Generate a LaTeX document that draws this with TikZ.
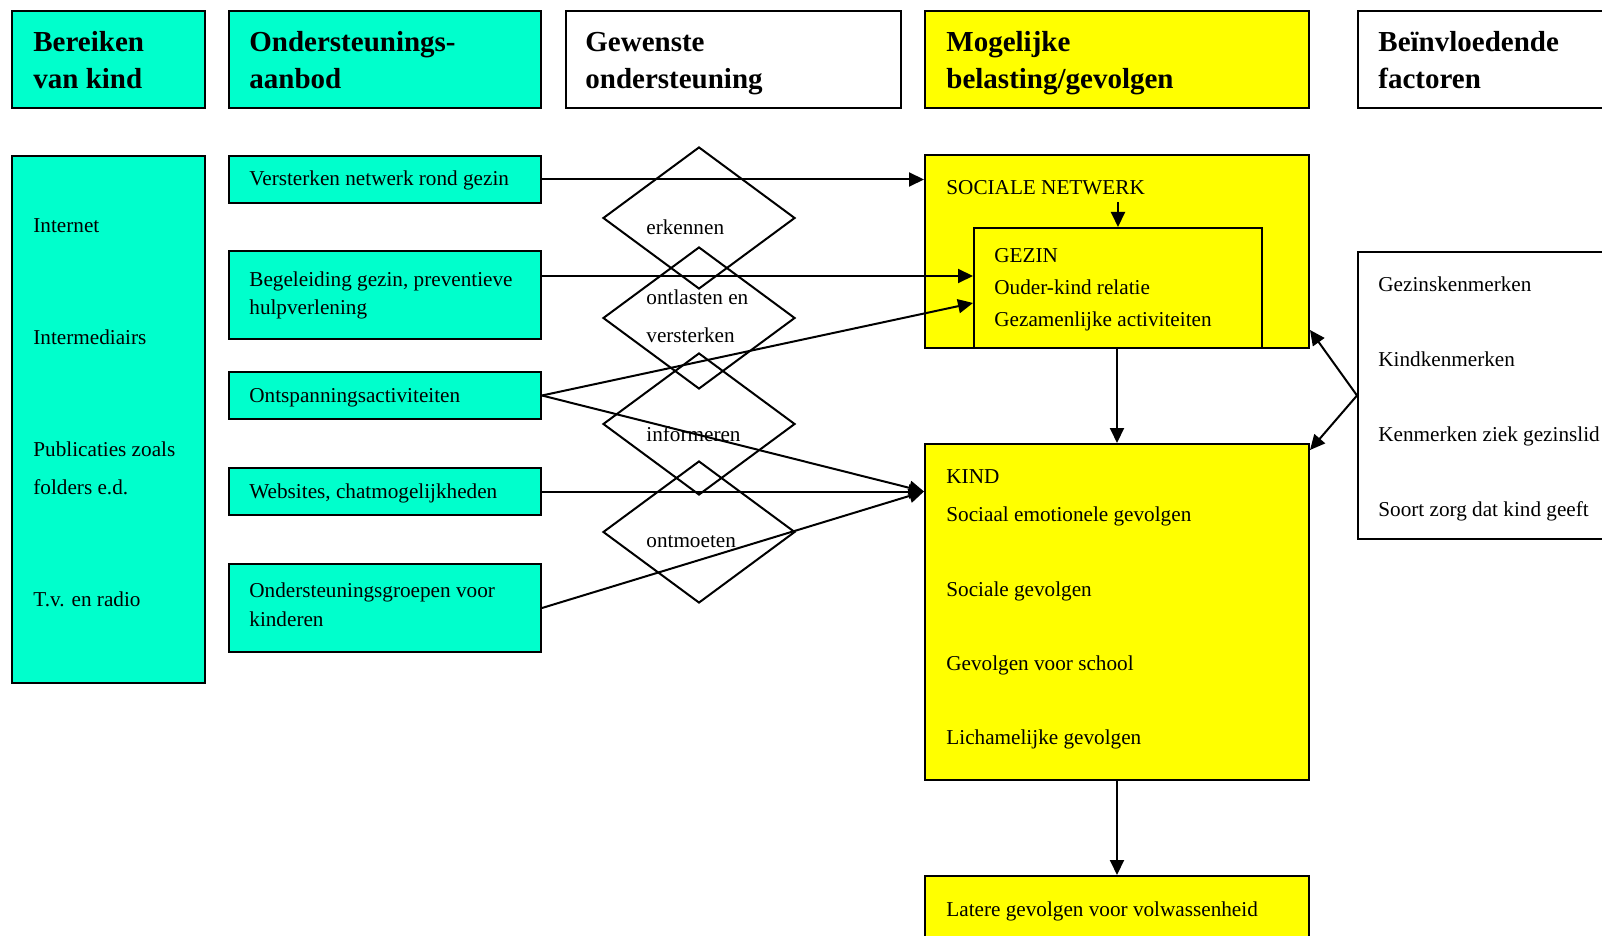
\documentclass[tikz,border=0pt]{standalone}
\usepackage{fontspec}
\setmainfont{Liberation Serif}
\usetikzlibrary{shapes.geometric,arrows.meta}

\begin{document}
\begin{tikzpicture}[x=0.5pt,y=-0.5pt,
  vak/.style={draw=black,line width=1pt,rectangle,anchor=north west,inner sep=0pt},
  groen/.style={vak,fill=turkoois},
  geel/.style={vak,fill=geelvlak},
  wit/.style={vak,fill=white},
  ruit/.style={draw=black,line width=1pt,diamond,inner sep=0pt,minimum width=96pt,minimum height=71pt},
  kop/.style={anchor=base west,inner sep=0pt,font=\bfseries\fontsize{14.5}{17}\selectfont},
  tekst/.style={anchor=base west,inner sep=0pt,font=\fontsize{10.6}{13}\selectfont},
  pijl/.style={line width=1pt,-{Triangle[length=7.5pt,width=7pt]}}]
\definecolor{turkoois}{RGB}{0,255,204}
\definecolor{geelvlak}{RGB}{255,255,0}
\useasboundingbox (0,0) rectangle (1602,936);
% Kopjes boven de kolommen
\node[groen,minimum width=96.5pt,minimum height=48.5pt] (kopBereik) at (11,10) {};
\node[groen,minimum width=156pt,minimum height=48.5pt] (kopAanbod) at (228,10) {};
\node[wit,minimum width=167.5pt,minimum height=48.5pt] (kopGewenst) at (565,10) {};
\node[geel,minimum width=192pt,minimum height=48.5pt] (kopBelasting) at (924,10) {};
\node[wit,minimum width=150pt,minimum height=48.5pt] (kopFactoren) at (1357,10) {};
\foreach \x/\a/\b [count=\i] in {33/Bereiken/van kind, 249/Ondersteunings-/aanbod,
    585/Gewenste/ondersteuning, 946/Mogelijke/{belasting/gevolgen}, 1378/Beïnvloedende/factoren}{
  \node[kop] (kop\i a) at (\x,52) {\a};
  \node[kop] (kop\i b) at (\x,89) {\b};
}
% Bereiken van kind
\node[groen,minimum width=96.5pt,minimum height=263.5pt] (bereik) at (11,155) {};
\foreach \y/\t [count=\i] in {233/Internet, 345/Intermediairs, 457/Publicaties zoals,
    494/folders e.d., 606/T.v. en radio}
  \node[tekst] (bereik\i) at (33,\y) {\t};
% Ondersteuningsaanbod
\node[groen,minimum width=156pt,minimum height=23.5pt] (aVerst) at (228,155) {};
\node[groen,minimum width=156pt,minimum height=44pt] (aBegel) at (228,250) {};
\node[groen,minimum width=156pt,minimum height=23.5pt] (aOntsp) at (228,371) {};
\node[groen,minimum width=156pt,minimum height=23.5pt] (aWeb) at (228,467) {};
\node[groen,minimum width=156pt,minimum height=44pt] (aGroep) at (228,563) {};
\foreach \y/\t [count=\i] in {186/Versterken netwerk rond gezin, 287/{Begeleiding gezin, preventieve},
    315/hulpverlening, 402/Ontspanningsactiviteiten, 498/{Websites, chatmogelijkheden},
    597/Ondersteuningsgroepen voor, 626/kinderen}
  \node[tekst] (aanbod\i) at (249,\y) {\t};
% Gewenste ondersteuning
\foreach \y [count=\i] in {218,318,424,532}
  \node[ruit] (ruit\i) at (699,\y) {};
\foreach \y/\t [count=\i] in {235/erkennen, 305/ontlasten en, 343/versterken,
    441/informeren, 547/ontmoeten}
  \node[tekst] (wens\i) at (646,\y) {\t};
% Mogelijke belasting en gevolgen
\node[geel,minimum width=192pt,minimum height=96.5pt] (netwerk) at (924,154) {};
\node[geel,minimum width=144pt,minimum height=60pt] (gezin) at (973,227) {};
\node[geel,minimum width=192pt,minimum height=168pt] (kind) at (924,443) {};
\node[geel,minimum width=192pt,minimum height=40pt] (later) at (924,875) {};
\node[tekst] (netwerkTekst) at (946,195) {SOCIALE NETWERK};
\foreach \y/\t [count=\i] in {263/GEZIN, 295/Ouder-kind relatie, 327/Gezamenlijke activiteiten}
  \node[tekst] (gezin\i) at (994,\y) {\t};
\foreach \y/\t [count=\i] in {483/KIND, 521/Sociaal emotionele gevolgen, 596/Sociale gevolgen,
    670/Gevolgen voor school, 744/Lichamelijke gevolgen}
  \node[tekst] (kind\i) at (946,\y) {\t};
\node[tekst] (laterTekst) at (946,916) {Latere gevolgen voor volwassenheid};
% Beinvloedende factoren
\node[wit,minimum width=150pt,minimum height=143.5pt] (factoren) at (1357,251) {};
\foreach \y/\t [count=\i] in {292/Gezinskenmerken, 367/Kindkenmerken,
    441/Kenmerken ziek gezinslid, 516/Soort zorg dat kind geeft}
  \node[tekst] (factor\i) at (1378,\y) {\t};
% Pijlen
\coordinate (begelUit) at ([yshift=9.5pt]aBegel.east);
\coordinate (kindIn) at (aWeb.east -| kind.west);
\draw[pijl] (aVerst.east) -- (aVerst.east -| netwerk.west);
\draw[pijl] (begelUit) -- (begelUit -| gezin.west);
\draw[pijl] (aOntsp.east) -- ([yshift=-7.5pt]gezin.west);
\draw[pijl] (aOntsp.east) -- (kindIn);
\draw[pijl] (aWeb.east) -- (kindIn);
\draw[pijl] (aGroep.east) -- (kindIn);
\draw[pijl] ([yshift=12.5pt]gezin.north) -- (gezin.north);
\draw[pijl] (netwerk.south) -- (kind.north);
\draw[pijl] (kind.south) -- (later.north);
\draw[pijl] (factoren.west) -- ([yshift=9.5pt]netwerk.south east);
\draw[pijl] (factoren.west) -- ([yshift=-3.5pt]kind.north east);
\end{tikzpicture}
\end{document}
